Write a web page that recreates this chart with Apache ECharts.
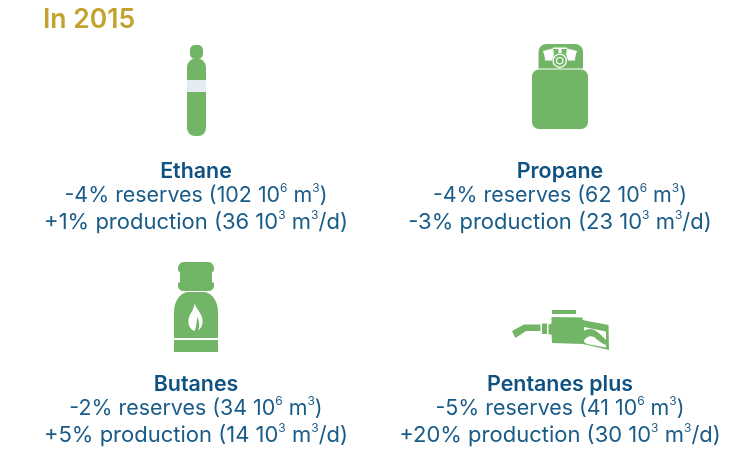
<!DOCTYPE html>
<html style="width:100%;height:100%;">
<head>
<meta charset="utf-8">
<title>In 2015</title>
<script src="https://cdn.jsdelivr.net/npm/echarts@6/dist/echarts.min.js"></script>
<style>
  html, body { margin: 0; padding: 0; background: #ffffff; }
  #chart { width: 752px; height: 449px; }
</style>
</head>
<body>
<div id="chart"></div>
<script>
const title = 'In 2015';
const gases = ['Ethane', 'Propane', 'Butanes', 'Pentanes plus'];
const reservesChange = ['-4%', '-4%', '-2%', '-5%'];
const reservesVolume = ['102', '62', '34', '41'];
const productionChange = ['+1%', '-3%', '+5%', '+20%'];
const productionVolume = ['36', '23', '14', '30'];

const GREEN = '#73b566';
const BLUE = '#1a5c88';
const DARK_BLUE = '#0f5180';
const FONT = 'Inter, "Open Sans", sans-serif';

// text block centres per gas
const blocks = [
  { x: 196, y: 171 }, { x: 560, y: 171 },
  { x: 196, y: 384 }, { x: 560, y: 384 }
];

const richText = {
  n: { fontFamily: FONT, fontSize: 21.4, fontWeight: 400, fill: BLUE, lineHeight: 26 },
  p: { fontFamily: FONT, fontSize: 22, fontWeight: 400, fill: BLUE, lineHeight: 26 },
  s: { fontFamily: FONT, fontSize: 12, fontWeight: 400, fill: BLUE, lineHeight: 18, verticalAlign: 'top' }
};

function line(text, x, y) {
  return {
    type: 'text',
    style: { x: x, y: y, text: text, align: 'center', verticalAlign: 'middle', rich: richText }
  };
}

// the graphic component has no path type, so icon outlines get registered as shapes
let shapeCount = 0;
function path(d, fill) {
  const name = 'iconPath' + (shapeCount++);
  echarts.graphic.registerShape(name, echarts.graphic.extendPath(d));
  return { type: name, style: { fill: fill || GREEN } };
}

function poly(d, fill) {
  return { type: 'polygon', shape: { points: d }, style: { fill: fill || GREEN } };
}

function box(x, y, w, h, r, fill) {
  return { type: 'rect', shape: { x: x, y: y, width: w, height: h, r: r }, style: { fill: fill || GREEN } };
}

const ethane = [
  box(190, 45, 13, 14, 5),
  box(187, 58, 19, 78, [9.5, 9.5, 8, 8]),
  box(187, 80, 19, 12, 0, '#e4ecf2')
];

const propane = [
  box(538.5, 44, 44.5, 24.5, [8, 8, 0, 0]),
  box(532, 69.5, 56, 59.5, 7),
  path('M543 51 L553 48.5 L554 54 L552 60.5 L545 60.5 C545 57 544 54 543 51 Z', '#ffffff'),
  path('M577 51 L567 48.5 L566 54 L568 60.5 L575 60.5 C575 57 576 54 577 51 Z', '#ffffff'),
  box(553, 47.5, 14, 1.5, 0, '#ffffff'),
  box(558.5, 49, 3, 4, 0, '#ffffff'),
  { type: 'circle', shape: { cx: 559.7, cy: 60.7, r: 6.6 }, style: { fill: GREEN, stroke: '#ffffff', lineWidth: 1.3 } },
  { type: 'circle', shape: { cx: 559.7, cy: 60.7, r: 3.2 }, style: { fill: GREEN, stroke: '#ffffff', lineWidth: 1.2 } }
];

const butanes = [
  path('M184 262 L208 262 C212 262 214 265 214 269 L214 271 L212 272 L212 282 L214 283 L214 286 C214 289 211 291 208 291 L184 291 C181 291 178 289 178 286 L178 283 L180 282 L180 272 L178 271 L178 269 C178 265 180 262 184 262 Z'),
  path('M187 292 L205 292 C213 294 218 302 218 312 L218 338 L174 338 L174 312 C174 302 179 294 187 292 Z'),
  box(174, 340, 44, 12, 0),
  path('M194.5 303 C196 309 202 313 202.5 320 C203 325 201 328 198.5 330.5 C200 325 199 321 197.5 317 C196.5 321 196.5 327 194.5 331 C190 329 188 325 188.5 320 C189 314 194.5 310 194.5 303 Z', '#ffffff')
];

const pentanes = [
  poly([[512, 331], [524, 324.5], [540.5, 324.5], [540.5, 331], [526, 331], [515.5, 338]]),
  box(542, 323.5, 5, 10.5, 0),
  box(552, 310, 24, 4, 0),
  poly([[548.5, 324.5], [551.5, 323.5], [551.5, 317], [582.5, 317.5], [582.5, 320], [608.5, 325], [609, 350], [583, 344], [552, 343], [551.5, 334.5], [548.5, 334.5]]),
  path('M584 327 L606 331.5 L606 340 C601 335 596 329 590 329 C587 329 585 330 584 331 Z', '#ffffff'),
  path('M584 340.5 C586 337 590 335 594 337 C598 340 602 344 606 345 L606 347.5 L587 344 L584 342 Z', '#ffffff')
];

const elements = [
  {
    type: 'text',
    style: { x: 43, y: 20.5, text: title, align: 'left', verticalAlign: 'middle', fill: '#c3a32f', font: '600 26.5px ' + FONT }
  }
].concat(ethane, propane, butanes, pentanes);

gases.forEach((name, i) => {
  const b = blocks[i];
  elements.push({
    type: 'text',
    style: { x: b.x, y: b.y + 0.5, text: name, align: 'center', verticalAlign: 'middle', fill: DARK_BLUE, font: '600 21.4px ' + FONT }
  });
  elements.push(line('{n|' + reservesChange[i] + ' reserves (' + reservesVolume[i] + ' 10}{s|6}{n| m}{s|3}{n|)}', b.x, b.y + 24.5));
  elements.push(line('{p|' + productionChange[i] + ' production (' + productionVolume[i] + ' 10}{s|3}{p| m}{s|3}{p|/d)}', b.x, b.y + 51));
});

const chart = echarts.init(document.getElementById('chart'), null, { renderer: 'canvas' });
chart.setOption({
  animation: false,
  backgroundColor: '#ffffff',
  graphic: { elements: elements }
});
</script>
</body>
</html>
